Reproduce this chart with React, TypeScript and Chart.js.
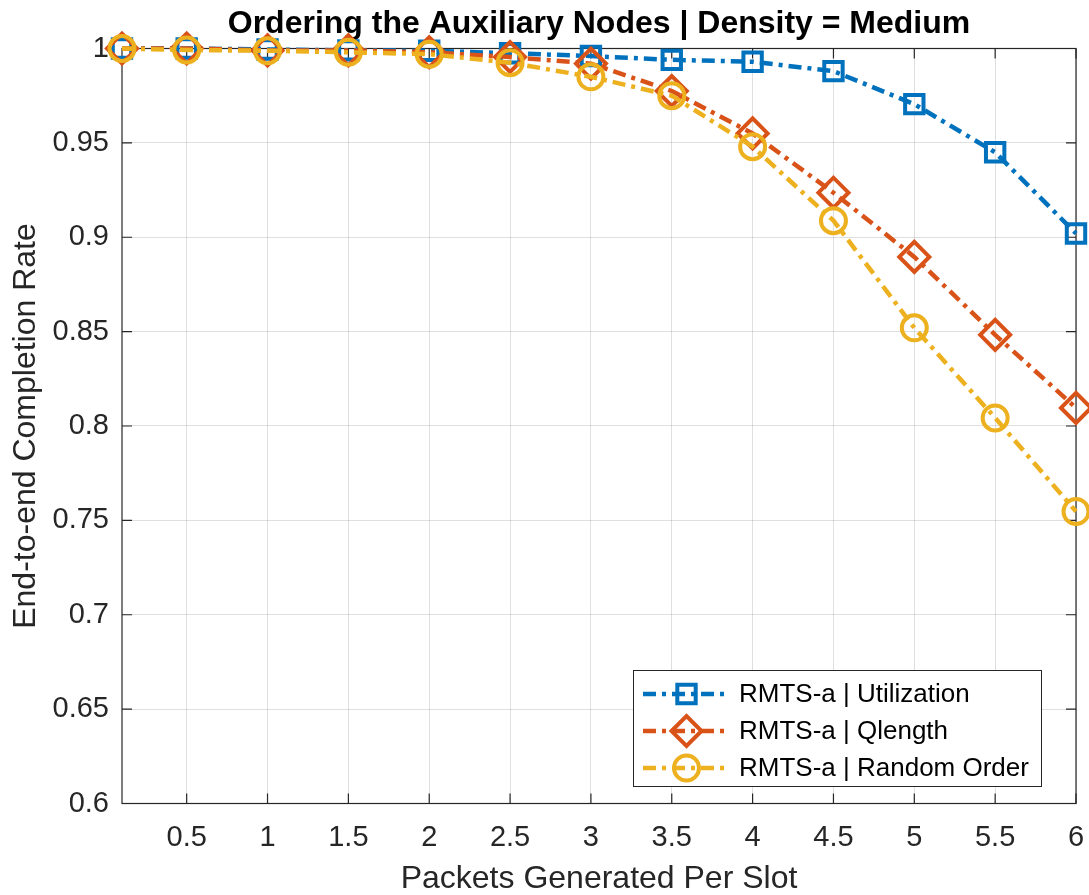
import { useEffect, useRef } from 'react';
import { Chart, registerables } from 'chart.js';

Chart.register(...registerables);

// ---- data ----
const xValues = [0.1, 0.5, 1, 1.5, 2, 2.5, 3, 3.5, 4, 4.5, 5, 5.5, 6];
const seriesLabels = ['RMTS-a | Utilization', 'RMTS-a | Qlength', 'RMTS-a | Random Order'];
const utilization = [1, 1, 0.9995, 0.999, 0.9988, 0.9975, 0.996, 0.994, 0.993, 0.988, 0.9705, 0.945, 0.902];
const qlength = [1, 1, 0.999, 0.999, 0.998, 0.9955, 0.992, 0.9775, 0.955, 0.9236, 0.8896, 0.8483, 0.8096];
const randomOrder = [1, 0.9992, 0.9988, 0.998, 0.997, 0.9925, 0.985, 0.975, 0.948, 0.9088, 0.852, 0.8043, 0.7547];
const xTickValues = [0.5, 1, 1.5, 2, 2.5, 3, 3.5, 4, 4.5, 5, 5.5, 6];
const xTickLabels = ['0.5', '1', '1.5', '2', '2.5', '3', '3.5', '4', '4.5', '5', '5.5', '6'];
const yTickValues = [0.6, 0.65, 0.7, 0.75, 0.8, 0.85, 0.9, 0.95, 1];
const yTickLabels = ['0.6', '0.65', '0.7', '0.75', '0.8', '0.85', '0.9', '0.95', '1'];
const chartTitle = 'Ordering the Auxiliary Nodes | Density = Medium';
const xTitle = 'Packets Generated Per Slot';
const yTitle = 'End-to-end Completion Rate';

// ---- style ----
const FONT = "'Liberation Sans', Arial, Helvetica, sans-serif";
const AXIS = '#262626';
const GRID = 'rgba(38,38,38,0.15)';
const DASH = [13, 6, 4, 6];
const colors = ['#0072BD', '#D95319', '#EDB120'];
const pointStyles = ['rect', 'rectRot', 'circle'];
const pointRadii = [13, 15, 12.5];
const seriesData = [utilization, qlength, randomOrder];

function markerPath(ctx: CanvasRenderingContext2D, style: string, x: number, y: number, r: number) {
  ctx.beginPath();
  if (style === 'rect') {
    const s = r * Math.SQRT1_2;
    ctx.rect(x - s, y - s, 2 * s, 2 * s);
  } else if (style === 'rectRot') {
    ctx.moveTo(x - r, y);
    ctx.lineTo(x, y - r);
    ctx.lineTo(x + r, y);
    ctx.lineTo(x, y + r);
    ctx.closePath();
  } else {
    ctx.arc(x, y, r, 0, Math.PI * 2);
  }
}

const framePlugin = {
  id: 'matlabFrame',
  beforeDatasetsDraw(chart: any) {
    const { ctx, chartArea } = chart;
    const { left, right, top, bottom } = chartArea;
    const xs = chart.scales.x;
    const ys = chart.scales.y;
    ctx.save();
    ctx.strokeStyle = AXIS;
    ctx.lineWidth = 1.2;
    ctx.setLineDash([]);
    ctx.strokeRect(left, top, right - left, bottom - top);
    ctx.beginPath();
    const tl = 10;
    xTickValues.forEach((v) => {
      const px = xs.getPixelForValue(v);
      ctx.moveTo(px, bottom);
      ctx.lineTo(px, bottom - tl);
      ctx.moveTo(px, top);
      ctx.lineTo(px, top + tl);
    });
    yTickValues.forEach((v) => {
      const py = ys.getPixelForValue(v);
      ctx.moveTo(left, py);
      ctx.lineTo(left + tl, py);
      ctx.moveTo(right, py);
      ctx.lineTo(right - tl, py);
    });
    ctx.stroke();
    ctx.restore();
  },
};

const legendPlugin = {
  id: 'matlabLegend',
  afterDraw(chart: any) {
    const { ctx } = chart;
    const boxX = 633;
    const boxY = 670;
    const boxW = 408;
    const boxH = 116;
    const rows = [694, 731, 768];
    ctx.save();
    ctx.fillStyle = '#ffffff';
    ctx.fillRect(boxX, boxY, boxW, boxH);
    ctx.strokeStyle = AXIS;
    ctx.lineWidth = 1;
    ctx.strokeRect(boxX + 0.5, boxY + 0.5, boxW, boxH);
    chart.data.datasets.forEach((ds: any, i: number) => {
      const y = rows[i];
      ctx.save();
      ctx.strokeStyle = ds.borderColor;
      ctx.lineWidth = ds.borderWidth;
      ctx.setLineDash(ds.borderDash);
      ctx.beginPath();
      ctx.moveTo(643, y);
      ctx.lineTo(730, y);
      ctx.stroke();
      ctx.setLineDash([]);
      ctx.lineWidth = ds.pointBorderWidth;
      markerPath(ctx, ds.pointStyle, 686.5, y, ds.pointRadius);
      ctx.stroke();
      ctx.restore();
      ctx.fillStyle = '#000000';
      ctx.font = `26px ${FONT}`;
      ctx.textAlign = 'left';
      ctx.textBaseline = 'middle';
      ctx.fillText(ds.label, 739, y + 1);
    });
    ctx.restore();
  },
};

export default function App() {
  const canvasRef = useRef<HTMLCanvasElement | null>(null);

  useEffect(() => {
    const canvas = canvasRef.current;
    if (!canvas) return;
    const datasets = seriesLabels.map((label, i) => ({
      label,
      data: xValues.map((x, j) => ({ x, y: seriesData[i][j] })),
      borderColor: colors[i],
      backgroundColor: colors[i],
      borderWidth: 4.5,
      borderDash: DASH,
      borderCapStyle: 'butt',
      pointStyle: pointStyles[i],
      pointRadius: pointRadii[i],
      pointHoverRadius: pointRadii[i],
      pointBorderWidth: 4,
      pointBorderColor: colors[i],
      pointBackgroundColor: 'rgba(0,0,0,0)',
      tension: 0,
      fill: false,
      clip: false as any,
      order: 3 - i,
    }));

    const chart = new Chart(canvas, {
      type: 'line',
      data: { datasets } as any,
      plugins: [framePlugin, legendPlugin],
      options: {
        responsive: false,
        animation: false,
        devicePixelRatio: 1,
        layout: { autoPadding: false, padding: { left: 0, right: 13, top: 0, bottom: 0 } },
        plugins: {
          legend: { display: false },
          tooltip: { enabled: false },
          title: {
            display: true,
            text: chartTitle,
            color: '#000000',
            fullSize: false,
            font: { family: FONT, size: 32, weight: 'bold', lineHeight: 1.2 },
            padding: { top: 5, bottom: 5.1 },
          },
        },
        scales: {
          x: {
            type: 'linear',
            min: 0.1,
            max: 6,
            afterBuildTicks: (s: any) => {
              s.ticks = xTickValues.map((v) => ({ value: v }));
            },
            afterFit: (s: any) => {
              s.height = 91.5;
              s.paddingLeft = 0;
              s.paddingRight = 0;
            },
            ticks: {
              autoSkip: false,
              maxRotation: 0,
              padding: 17,
              color: AXIS,
              font: { family: FONT, size: 29 },
              callback: (_v: any, i: number) => xTickLabels[i],
            },
            grid: { color: GRID, lineWidth: 1, drawTicks: false },
            border: { display: false },
            title: {
              display: true,
              text: xTitle,
              color: AXIS,
              font: { family: FONT, size: 32, lineHeight: 1 },
              padding: { top: 0, bottom: 0 },
            },
          },
          y: {
            type: 'linear',
            min: 0.6,
            max: 1,
            afterBuildTicks: (s: any) => {
              s.ticks = yTickValues.map((v) => ({ value: v }));
            },
            afterFit: (s: any) => {
              s.width = 122;
            },
            ticks: {
              autoSkip: false,
              padding: 13,
              color: AXIS,
              font: { family: FONT, size: 29 },
              callback: (_v: any, i: number) => yTickLabels[i],
            },
            grid: { color: GRID, lineWidth: 1, drawTicks: false },
            border: { display: false },
            title: {
              display: true,
              text: yTitle,
              color: AXIS,
              font: { family: FONT, size: 32, lineHeight: 1 },
              padding: { top: 10, bottom: 0 },
            },
          },
        },
      } as any,
    });
    return () => chart.destroy();
  }, []);

  return (
    <div style={{ position: 'absolute', left: 0, top: 0, width: 1089, height: 895, background: '#ffffff' }}>
      <canvas ref={canvasRef} width={1089} height={895} style={{ display: 'block' }} />
    </div>
  );
}
